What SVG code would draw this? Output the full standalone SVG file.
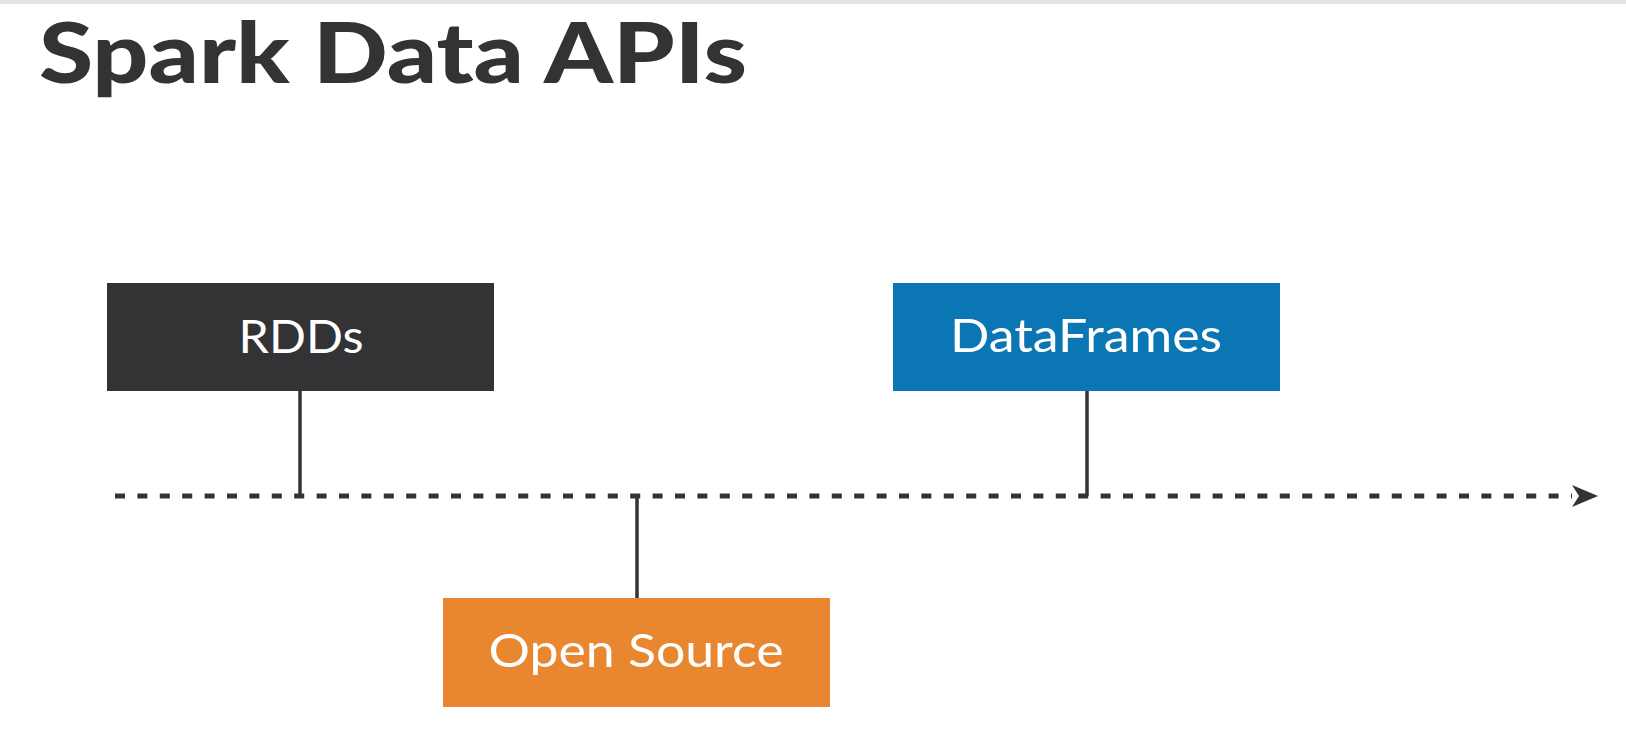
<svg xmlns="http://www.w3.org/2000/svg" width="1626" height="752" viewBox="0 0 1626 752">
  <style>
    .title { font-family: Lato, "Open Sans", "Liberation Sans", sans-serif; font-weight: 900; font-size: 84px; fill: #333333; }
    .label { font-family: Lato, "Open Sans", "Liberation Sans", sans-serif; font-weight: 400; font-size: 46px; fill: #ffffff; text-anchor: middle; }
    .stem { stroke: #333333; stroke-width: 3.5; fill: none; }
    .axis { stroke: #333333; stroke-width: 5; stroke-dasharray: 10 12.4; fill: none; }
  </style>
  <defs>
    <marker id="arrow" markerUnits="userSpaceOnUse" markerWidth="28" markerHeight="26" refX="26" refY="13" orient="auto">
      <path d="M0,2 L26,13 L0,24 L7,13 Z" fill="#333333"/>
    </marker>
  </defs>
  <rect width="1626" height="752" fill="#ffffff"/>
  <rect width="1626" height="4" fill="#e4e4e4"/>
  <g id="title">
    <text class="title" x="39" y="83" textLength="708" lengthAdjust="spacingAndGlyphs">Spark Data APIs</text>
  </g>
  <g id="connectors">
    <line class="axis" x1="115" y1="496" x2="1572" y2="496"/>
    <path d="M1570,496 L1598,496" stroke="none" marker-end="url(#arrow)"/>
    <line class="stem" x1="300" y1="391" x2="300" y2="496"/>
    <line class="stem" x1="1087" y1="391" x2="1087" y2="496"/>
    <line class="stem" x1="637" y1="496" x2="637" y2="598"/>
  </g>
  <g id="rdds">
    <rect x="107" y="283" width="387" height="108" fill="#333335"/>
    <text class="label" x="301" y="353" textLength="125" lengthAdjust="spacingAndGlyphs">RDDs</text>
  </g>
  <g id="dataframes">
    <rect x="893" y="283" width="387" height="108" fill="#0a77b4"/>
    <text class="label" x="1086" y="352" textLength="272" lengthAdjust="spacingAndGlyphs">DataFrames</text>
  </g>
  <g id="opensource">
    <rect x="443" y="598" width="387" height="109" fill="#e8872f"/>
    <text class="label" x="636" y="667" textLength="295" lengthAdjust="spacingAndGlyphs">Open Source</text>
  </g>
</svg>
